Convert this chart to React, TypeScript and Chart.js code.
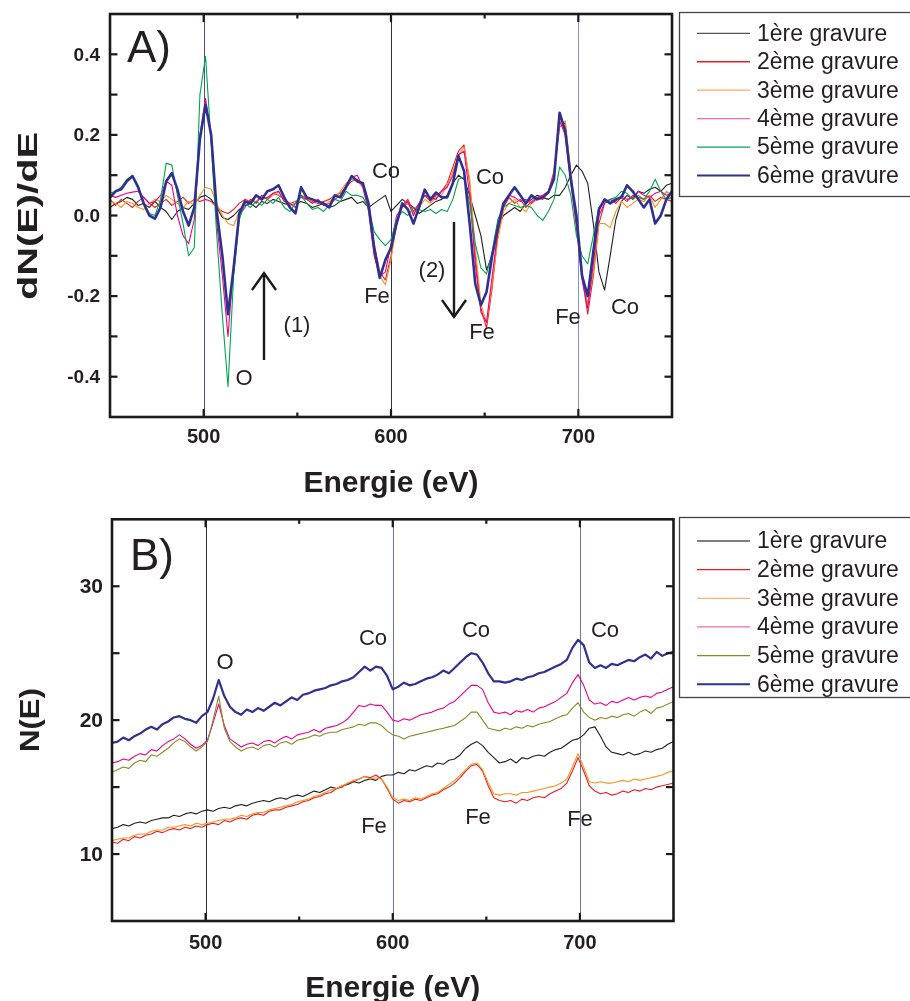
import React, { useEffect, useRef } from "react";
import { Chart, registerables } from "chart.js";

Chart.register(...registerables);

const FONT = '"Liberation Sans", Arial, Helvetica, sans-serif';

// Energy grid (eV)
const energies = [
  450, 453, 456, 459, 462, 465, 468, 471, 474, 477,
  480, 483, 486, 489, 492, 495, 498, 501, 504, 507,
  510, 513, 516, 519, 522, 525, 528, 531, 534, 537,
  540, 543, 546, 549, 552, 555, 558, 561, 564, 567,
  570, 573, 576, 579, 582, 585, 588, 591, 594, 597,
  600, 603, 606, 609, 612, 615, 618, 621, 624, 627,
  630, 633, 636, 639, 642, 645, 648, 651, 654, 657,
  660, 663, 666, 669, 672, 675, 678, 681, 684, 687,
  690, 693, 696, 699, 702, 705, 708, 711, 714, 717,
  720, 723, 726, 729, 732, 735, 738, 741, 744, 747,
  750,
];

const seriesLabels = ["1ère gravure", "2ème gravure", "3ème gravure", "4ème gravure", "5ème gravure", "6ème gravure"];

// Panel A : dN(E)/dE
const derivGravure1 = [
  0.02, 0.03, 0.035, 0.045, 0.04, 0.025, 0.03, 0.02, 0.035, 0.02,
  0.01, -0.01, 0.01, 0.02, 0.015, 0.03, 0.045, 0.05, 0.04, 0.02,
  -0.005, -0.01, 0.0, 0.015, 0.025, 0.03, 0.02, 0.035, 0.03, 0.04,
  0.035, 0.03, 0.025, 0.03, 0.035, 0.03, 0.02, 0.025, 0.03, 0.02,
  0.025, 0.035, 0.04, 0.045, 0.03, 0.035, 0.02, 0.03, 0.04, 0.05,
  0.01, 0.025, 0.04, 0.03, 0.02, 0.005, 0.015, 0.025, 0.035, 0.04,
  0.05, 0.08, 0.1, 0.09, 0.05, 0.0, -0.05, -0.135, -0.1, -0.03,
  0.0, 0.01, 0.02, 0.01, 0.03, 0.04, 0.05, 0.045, 0.04, 0.05,
  0.05, 0.07, 0.1, 0.125, 0.11, 0.08, -0.02, -0.14, -0.185, -0.1,
  -0.01, 0.035, 0.05, 0.04, 0.06, 0.055, 0.065, 0.07, 0.06, 0.075,
  0.08,
];
const derivGravure2 = [
  0.04, 0.025, 0.04, 0.03, 0.02, 0.035, 0.045, 0.03, 0.02, 0.03,
  0.04, 0.025, 0.035, 0.045, 0.03, 0.04, 0.035, 0.04, 0.035, 0.02,
  0.01, 0.005, 0.015, 0.03, 0.04, 0.035, 0.05, 0.04, 0.045, 0.055,
  0.05, 0.04, 0.03, 0.035, 0.045, 0.04, 0.035, 0.03, 0.035, 0.04,
  0.05, 0.055, 0.07, 0.085, 0.09, 0.075, 0.03, -0.07, -0.14, -0.16,
  -0.1, -0.02, 0.025, 0.04, 0.01, 0.03, 0.05, 0.035, 0.05, 0.06,
  0.08, 0.12, 0.16, 0.175, 0.08, -0.1, -0.23, -0.28, -0.18, -0.05,
  0.02, 0.045, 0.03, 0.04, 0.02, 0.035, 0.045, 0.04, 0.06, 0.11,
  0.22, 0.23, 0.1, -0.02, -0.15, -0.245, -0.15, -0.02, 0.03, 0.04,
  0.03, 0.045, 0.035, 0.05, 0.045, 0.04, 0.05, 0.035, 0.045, 0.04,
  0.035,
];
const derivGravure3 = [
  0.035, 0.03, 0.02, 0.035, 0.03, 0.02, 0.015, 0.03, 0.04, 0.035,
  0.05, 0.04, 0.03, 0.02, 0.035, 0.025, 0.05, 0.07, 0.065, 0.03,
  0.0, -0.02, -0.025, 0.01, 0.03, 0.04, 0.035, 0.05, 0.04, 0.05,
  0.06, 0.035, 0.025, 0.03, 0.05, 0.045, 0.03, 0.04, 0.025, 0.035,
  0.045, 0.06, 0.08, 0.09, 0.085, 0.07, 0.02, -0.08, -0.15, -0.172,
  -0.11, -0.02, 0.02, 0.03, 0.005, 0.02, 0.04, 0.03, 0.045, 0.05,
  0.075, 0.11, 0.15, 0.17, 0.09, -0.08, -0.22, -0.265, -0.17, -0.06,
  0.01, 0.03, 0.04, 0.02, 0.01, 0.03, 0.04, 0.05, 0.06, 0.1,
  0.22, 0.235, 0.11, -0.01, -0.14, -0.22, -0.14, -0.02, -0.02, -0.03,
  0.01, 0.035, 0.02, 0.03, 0.04, 0.035, 0.05, 0.02, 0.04, 0.06,
  0.05,
];
const derivGravure4 = [
  0.05, 0.045, 0.05, 0.055, 0.058, 0.06, 0.045, 0.03, 0.035, 0.05,
  0.085, 0.075, 0.0, -0.05, -0.07, -0.01, 0.2, 0.29, 0.2, -0.02,
  -0.15, -0.3, -0.12, 0.0, 0.02, 0.04, 0.03, 0.05, 0.04, 0.055,
  0.06, 0.035, 0.03, 0.02, 0.05, 0.04, 0.03, 0.04, 0.025, 0.03,
  0.04, 0.05, 0.075, 0.095, 0.1, 0.07, 0.01, -0.1, -0.15, -0.14,
  -0.07, 0.0, 0.02, 0.035, 0.0, 0.03, 0.05, 0.045, 0.04, 0.06,
  0.07, 0.1, 0.15, 0.16, 0.05, -0.12, -0.24, -0.265, -0.15, -0.04,
  0.02, 0.05, 0.045, 0.035, 0.04, 0.03, 0.045, 0.05, 0.06, 0.1,
  0.235, 0.2, 0.08, -0.03, -0.16, -0.23, -0.12, 0.0, 0.03, 0.04,
  0.035, 0.05, 0.04, 0.045, 0.06, 0.05, 0.045, 0.055, 0.06, 0.05,
  0.055,
];
const derivGravure5 = [
  0.055, 0.06, 0.07, 0.09, 0.098, 0.075, 0.03, 0.005, 0.0, 0.04,
  0.13, 0.125, 0.05, -0.02, -0.1, -0.08, 0.3, 0.395, 0.18, -0.05,
  -0.25, -0.425, -0.15, -0.01, 0.03, 0.02, 0.035, 0.025, 0.04, 0.03,
  0.045, 0.02, 0.01, 0.03, 0.05, 0.03, 0.015, 0.02, 0.01, 0.025,
  0.04, 0.035, 0.06, 0.05, 0.05, 0.045, 0.02, -0.04, -0.06, -0.075,
  -0.06, -0.01, 0.01, 0.0, 0.02, 0.015, 0.01, 0.015, 0.005, 0.015,
  0.01, 0.04, 0.09, 0.095, 0.03, -0.07, -0.13, -0.145, -0.09, -0.01,
  0.02, 0.03, 0.025, 0.02, 0.025, 0.02, 0.0, -0.012, 0.01, 0.04,
  0.12, 0.1, 0.05, -0.05, -0.1, -0.12, -0.05, 0.02, 0.035, 0.04,
  0.045, 0.06, 0.055, 0.04, 0.05, 0.04, 0.06, 0.09, 0.06, 0.04,
  0.045,
];
const derivGravure6 = [
  0.045, 0.06, 0.065, 0.085, 0.098, 0.07, 0.03, 0.0, -0.008, 0.02,
  0.085, 0.105, 0.065, 0.01, -0.025, 0.02, 0.19, 0.275, 0.2, 0.01,
  -0.1, -0.245, -0.13, 0.005, 0.035, 0.03, 0.05, 0.04, 0.06, 0.065,
  0.075, 0.045, 0.02, 0.005, 0.07, 0.045, 0.04, 0.035, 0.03, 0.02,
  0.05, 0.045, 0.07, 0.098, 0.085, 0.08, 0.03, -0.08, -0.155, -0.11,
  -0.08, -0.02, 0.03, 0.015, -0.02, 0.02, 0.064, 0.04, 0.057, 0.045,
  0.045, 0.08, 0.148, 0.11, -0.02, -0.17, -0.222, -0.19, -0.1, -0.03,
  0.03, 0.05, 0.07, 0.05, 0.03, 0.05, 0.04, 0.045, 0.057, 0.09,
  0.255, 0.21, 0.09, 0.0, -0.15, -0.2, -0.09, 0.015, 0.04, 0.03,
  0.04, 0.045, 0.075, 0.06, 0.04, 0.02, 0.04, -0.02, 0.0, 0.04,
  0.06,
];

// Panel B : N(E)
const nGravure1 = [
  11.9, 12.0, 12.2, 12.1, 12.3, 12.4, 12.3, 12.5, 12.6, 12.7,
  12.7, 12.9, 12.8, 13.0, 13.1, 13.0, 13.2, 13.3, 13.2, 13.4,
  13.5, 13.4, 13.6, 13.7, 13.6, 13.8, 13.9, 14.0, 13.9, 14.1,
  14.2, 14.1, 14.3, 14.4, 14.3, 14.5, 14.7, 14.6, 14.8, 15.0,
  14.9, 15.1, 15.2, 15.4, 15.3, 15.5, 15.6, 15.5, 15.8, 15.9,
  15.9, 16.1, 16.0, 16.3, 16.2, 16.4, 16.6, 16.5, 16.8, 16.7,
  17.0, 17.1, 17.4, 17.9, 18.2, 18.4, 18.1, 17.6, 17.2, 16.8,
  16.9, 17.1, 16.8, 17.2, 17.1, 17.3, 17.4, 17.3, 17.6, 17.8,
  17.9, 18.2, 18.5, 18.6, 18.9, 19.4, 19.5, 18.8, 18.0, 17.6,
  17.5, 17.4, 17.6, 17.4, 17.5, 17.7, 17.6, 17.8, 17.9, 18.2,
  18.4,
];
const nGravure2 = [
  10.9, 10.8, 11.1, 11.0, 11.3, 11.2, 11.4, 11.5, 11.7, 11.6,
  11.8, 11.9, 11.8, 12.0, 11.9, 12.1, 12.0, 12.2, 12.3, 12.2,
  12.5, 12.4, 12.6, 12.7, 12.6, 12.9, 13.0, 12.9, 13.2, 13.3,
  13.3, 13.5, 13.6, 13.7, 13.9, 14.0, 14.2, 14.3, 14.5, 14.6,
  14.9, 15.0, 15.3, 15.4, 15.6, 15.8, 15.7, 15.9, 15.6, 14.9,
  14.1, 13.8, 14.0, 13.9, 14.1, 14.0, 14.2, 14.4, 14.5, 14.8,
  15.0, 15.3, 15.7, 16.2, 16.6, 16.7, 16.2, 15.1, 14.2, 14.0,
  13.9, 14.0, 13.8, 14.1, 14.0, 14.2, 14.3, 14.2, 14.5, 14.7,
  14.9, 15.3, 16.2, 17.2, 16.2, 15.1, 14.7, 14.5, 14.6, 14.4,
  14.5, 14.7, 14.6, 14.8, 14.7, 14.9, 14.8, 15.0, 15.1, 15.2,
  15.3,
];
const nGravure3 = [
  11.0, 11.1, 11.2, 11.2, 11.4, 11.5, 11.5, 11.7, 11.8, 11.8,
  12.0, 12.0, 12.1, 12.2, 12.1, 12.3, 12.2, 12.3, 12.4, 12.5,
  12.6, 12.6, 12.7, 12.9, 12.8, 13.0, 13.1, 13.1, 13.3, 13.4,
  13.5, 13.6, 13.7, 13.9, 14.0, 14.1, 14.3, 14.4, 14.6, 14.8,
  14.9, 15.1, 15.3, 15.5, 15.6, 15.8, 15.6, 15.7, 15.6, 15.0,
  14.2, 14.0, 14.1, 14.0, 14.2, 14.1, 14.3, 14.5, 14.6, 14.9,
  15.2, 15.5, 15.9, 16.3, 16.7, 16.8, 16.3, 15.3, 14.5, 14.4,
  14.5, 14.5, 14.4, 14.6, 14.6, 14.7, 14.8, 14.9, 15.0, 15.1,
  15.3, 15.6, 16.5, 17.5, 16.5, 15.4, 15.3, 15.4, 15.3, 15.3,
  15.4, 15.5, 15.4, 15.6, 15.5, 15.6, 15.7, 15.8, 15.9, 16.1,
  16.2,
];
const nGravure4 = [
  16.8, 16.9, 17.1, 17.0, 17.3, 17.5, 17.4, 17.8, 17.7, 18.1,
  18.4, 18.6, 18.9, 18.6, 18.2, 17.9, 18.1, 18.5, 19.8, 21.2,
  19.6, 18.6, 18.3, 18.0, 18.2, 18.3, 18.1, 18.4, 18.5, 18.3,
  18.6, 18.8, 18.6, 18.9, 19.0, 19.1, 19.3, 19.1, 19.4, 19.5,
  19.6, 19.8, 20.1, 20.6, 21.1, 21.0, 21.2, 21.1, 21.1, 20.6,
  20.0, 19.9, 20.1, 20.0, 20.2, 20.4, 20.5, 20.6, 20.8, 20.9,
  21.2, 21.4, 21.8, 22.2, 22.6, 22.6, 22.3, 21.3, 20.6, 20.5,
  20.6, 20.4, 20.7, 20.6, 20.8, 20.6, 20.9, 21.0, 21.2, 21.4,
  21.7, 22.0, 22.8, 23.4, 22.6, 21.5, 21.2, 21.3, 21.1, 21.4,
  21.3, 21.5, 21.7, 21.5, 21.7, 21.8, 21.7, 22.0, 22.1, 22.3,
  22.5,
];
const nGravure5 = [
  16.1, 16.3, 16.5, 16.4, 16.8, 17.0, 16.9, 17.4, 17.3, 17.6,
  17.9, 18.3, 18.6, 18.4, 18.0, 17.7, 18.0, 18.4, 20.0, 21.8,
  19.4, 18.4, 18.0, 17.7, 17.9, 18.0, 17.8, 18.1, 18.2, 18.0,
  18.3, 18.4, 18.2, 18.5, 18.6, 18.7, 18.9, 18.8, 19.0, 19.1,
  19.1, 19.3, 19.4, 19.5, 19.7, 19.6, 19.8, 19.8, 19.6, 19.2,
  18.9, 18.8, 18.6, 18.8, 18.9, 19.0, 19.1, 19.2, 19.3, 19.4,
  19.5, 19.6, 19.9, 20.2, 20.6, 20.6, 20.0, 19.4, 19.3, 19.2,
  19.4, 19.3, 19.5, 19.4, 19.6, 19.5, 19.7, 19.8, 19.9, 20.1,
  20.3, 20.4, 20.9, 21.3, 20.6, 20.2, 20.0, 20.2, 20.1, 20.3,
  20.2, 20.4, 20.5, 20.3, 20.6, 20.8, 20.5, 20.9, 21.0, 21.2,
  21.4,
];
const nGravure6 = [
  18.3, 18.4, 18.7, 18.5, 18.8, 19.0, 19.3, 19.5, 19.3, 19.7,
  19.9, 20.2, 20.3, 20.1, 20.0, 19.8, 20.3, 20.6, 21.6, 23.0,
  21.8, 21.0, 20.6, 20.4, 20.8, 20.6, 20.9, 20.7, 21.0, 21.3,
  21.1, 21.4, 21.7, 21.5, 21.9, 22.0, 22.2, 22.3, 22.4, 22.6,
  22.7, 22.9, 23.0, 23.2, 23.6, 24.0, 23.7, 24.0, 23.9, 23.3,
  22.3, 22.5, 22.8, 22.6, 22.7, 22.9, 23.1, 23.2, 23.4, 23.7,
  23.5, 23.9, 24.3, 24.7, 25.0, 24.9, 24.3, 23.5, 22.9, 22.9,
  22.8, 22.9, 23.1, 23.0, 23.2, 23.3, 23.5, 23.6, 23.8, 24.0,
  24.2, 24.5, 25.4, 26.0, 25.6, 24.3, 23.9, 24.1, 23.9, 24.2,
  24.1, 24.3, 24.5, 24.4, 24.7, 24.9, 24.6, 25.1, 24.8, 25.0,
  25.1,
];

// Axis ticks
const xMajorTicks = [500, 600, 700];
const xTickLabels = ["500", "600", "700"];
const xMinorTicks = [550, 650];
const yMajorTicksA = [-0.4, -0.2, 0.0, 0.2, 0.4];
const yTickLabelsA = ["-0.4", "-0.2", "0.0", "0.2", "0.4"];
const yMinorTicksA = [-0.3, -0.1, 0.1, 0.3];
const yMajorTicksB = [10, 20, 30];
const yTickLabelsB = ["10", "20", "30"];
const yMinorTicksB = [15, 25];
const markerEnergies = [500, 600, 700];

type Note = { t: string; x: number; y: number };

const panelA = {
  series: [derivGravure1, derivGravure2, derivGravure3, derivGravure4, derivGravure5, derivGravure6],
  colors: ["#231f20", "#ed1c24", "#f7941d", "#ec008c", "#00a651", "#2e3192"],
  legendColors: ["#555555", "#ed1c24", "#fbab5c", "#f26bb5", "#00a651", "#2e3192"],
  orders: [5, 4, 3, 2, 1, 0],
  thin: 1.1,
  thick: 2.6,
  yMin: -0.5,
  yMax: 0.5,
  padding: { left: 110, right: 238, top: 14, bottom: 83 },
  yMajor: yMajorTicksA,
  yLabels: yTickLabelsA,
  yMinor: yMinorTicksA,
  yLabelFont: 19,
  yLabelRight: 100,
  xLabelOffset: 20,
  xTitleBase: 492,
  yTitle: "dN(E)/dE",
  yTitleCx: 30,
  yTitleCy: 216,
  yTitleLen: 168,
  vlineColors: ["#4b4ba8", "#2a2d5e", "#8391d2"],
  panelTag: "A)",
  tagX: 127,
  tagY: 62,
  legendTop: 12.5,
  legendH: 184,
  legendRow0: 33.3,
  legendStep: 28.45,
  notes: [
    { t: "Co", x: 386, y: 172 },
    { t: "Co", x: 490, y: 178 },
    { t: "Fe", x: 377, y: 297 },
    { t: "O", x: 244, y: 379 },
    { t: "(1)", x: 297, y: 326 },
    { t: "(2)", x: 432, y: 271 },
    { t: "Fe", x: 482, y: 333 },
    { t: "Fe", x: 568, y: 318 },
    { t: "Co", x: 625, y: 308 },
  ] as Note[],
  arrows: [
    { x: 264, from: 360, to: 273 },
    { x: 454, from: 222, to: 317 },
  ],
};

const panelB = {
  series: [nGravure1, nGravure2, nGravure3, nGravure4, nGravure5, nGravure6],
  colors: ["#231f20", "#ed1c24", "#f7941d", "#ec008c", "#8a8a24", "#2e3192"],
  legendColors: ["#555555", "#ed1c24", "#f8b27a", "#f26bb5", "#8a8a24", "#2e3192"],
  orders: [5, 4, 3, 2, 1, 0],
  thin: 1.1,
  thick: 2.2,
  yMin: 5,
  yMax: 35,
  padding: { left: 112, right: 236.5, top: 19.3, bottom: 80 },
  yMajor: yMajorTicksB,
  yLabels: yTickLabelsB,
  yMinor: yMinorTicksB,
  yLabelFont: 21,
  yLabelRight: 103,
  xLabelOffset: 22,
  xTitleBase: 497,
  yTitle: "N(E)",
  yTitleCx: 32,
  yTitleCy: 220,
  yTitleLen: 64,
  vlineColors: ["#2a2d5e", "#6574c4", "#6574c4"],
  panelTag: "B)",
  tagX: 130,
  tagY: 70,
  legendTop: 17.5,
  legendH: 180,
  legendRow0: 41,
  legendStep: 28.65,
  notes: [
    { t: "O", x: 225, y: 163 },
    { t: "Co", x: 373, y: 139 },
    { t: "Co", x: 476, y: 131 },
    { t: "Co", x: 605, y: 131 },
    { t: "Fe", x: 374, y: 327 },
    { t: "Fe", x: 478, y: 318 },
    { t: "Fe", x: 580, y: 320 },
  ] as Note[],
  arrows: [] as { x: number; from: number; to: number }[],
};

type PanelCfg = typeof panelA;

function makeDecor(cfg: PanelCfg) {
  return {
    id: "decor",
    beforeDatasetsDraw(chart: any) {
      const ctx = chart.ctx as CanvasRenderingContext2D;
      const ca = chart.chartArea;
      const xs = chart.scales.x;
      ctx.save();
      ctx.lineWidth = 1;
      markerEnergies.forEach((e, i) => {
        const px = Math.round(xs.getPixelForValue(e)) + 0.5;
        ctx.strokeStyle = cfg.vlineColors[i];
        ctx.beginPath();
        ctx.moveTo(px, ca.top);
        ctx.lineTo(px, ca.bottom);
        ctx.stroke();
      });
      ctx.restore();
    },
    afterDatasetsDraw(chart: any) {
      const ctx = chart.ctx as CanvasRenderingContext2D;
      const ca = chart.chartArea;
      const xs = chart.scales.x;
      const ys = chart.scales.y;
      ctx.save();
      // frame
      ctx.strokeStyle = "#1a1a1a";
      ctx.lineWidth = 2.6;
      ctx.strokeRect(ca.left, ca.top, ca.right - ca.left, ca.bottom - ca.top);
      // ticks (inward on all four sides)
      ctx.lineWidth = 2.2;
      const seg = (x1: number, y1: number, x2: number, y2: number) => {
        ctx.beginPath();
        ctx.moveTo(x1, y1);
        ctx.lineTo(x2, y2);
        ctx.stroke();
      };
      xMajorTicks.forEach((v) => {
        const p = xs.getPixelForValue(v);
        seg(p, ca.bottom, p, ca.bottom - 8);
        seg(p, ca.top, p, ca.top + 8);
      });
      xMinorTicks.forEach((v) => {
        const p = xs.getPixelForValue(v);
        seg(p, ca.bottom, p, ca.bottom - 4.5);
        seg(p, ca.top, p, ca.top + 4.5);
      });
      [...cfg.yMajor, ...cfg.yMinor].forEach((v) => {
        const p = ys.getPixelForValue(v);
        seg(ca.left, p, ca.left + 7.5, p);
        seg(ca.right, p, ca.right - 7.5, p);
      });
      // tick labels
      ctx.fillStyle = "#231f20";
      ctx.font = `bold 20px ${FONT}`;
      ctx.textAlign = "center";
      ctx.textBaseline = "middle";
      xMajorTicks.forEach((v, i) => {
        ctx.fillText(xTickLabels[i], xs.getPixelForValue(v), ca.bottom + cfg.xLabelOffset);
      });
      ctx.font = `bold ${cfg.yLabelFont}px ${FONT}`;
      ctx.textAlign = "right";
      cfg.yMajor.forEach((v, i) => {
        ctx.fillText(cfg.yLabels[i], cfg.yLabelRight, ys.getPixelForValue(v) + 1);
      });
      // x title
      ctx.font = `bold 30px ${FONT}`;
      ctx.textAlign = "center";
      ctx.textBaseline = "alphabetic";
      ctx.fillText("Energie (eV)", (ca.left + ca.right) / 2, cfg.xTitleBase);
      // y title (rotated, stretched along its length)
      ctx.save();
      ctx.font = `bold 27px ${FONT}`;
      const w = ctx.measureText(cfg.yTitle).width;
      ctx.translate(cfg.yTitleCx, cfg.yTitleCy);
      ctx.rotate(-Math.PI / 2);
      ctx.scale(cfg.yTitleLen / w, 1);
      ctx.textAlign = "center";
      ctx.textBaseline = "middle";
      ctx.fillText(cfg.yTitle, 0, 0);
      ctx.restore();
      // panel tag
      ctx.fillStyle = "#231f20";
      ctx.font = `44px ${FONT}`;
      ctx.textAlign = "left";
      ctx.textBaseline = "alphabetic";
      ctx.fillText(cfg.panelTag, cfg.tagX, cfg.tagY);
      // notes
      ctx.font = `22px ${FONT}`;
      ctx.textAlign = "center";
      ctx.textBaseline = "middle";
      cfg.notes.forEach((n) => ctx.fillText(n.t, n.x, n.y));
      // arrows
      ctx.strokeStyle = "#1a1a1a";
      ctx.lineWidth = 2.4;
      cfg.arrows.forEach((a) => {
        const dir = Math.sign(a.to - a.from);
        seg(a.x, a.from, a.x, a.to);
        ctx.beginPath();
        ctx.moveTo(a.x - 12, a.to - dir * 17);
        ctx.lineTo(a.x, a.to);
        ctx.lineTo(a.x + 12, a.to - dir * 17);
        ctx.stroke();
      });
      // legend
      ctx.strokeStyle = "#444";
      ctx.lineWidth = 1.3;
      ctx.strokeRect(679.5, cfg.legendTop, 260, cfg.legendH);
      ctx.font = `23px ${FONT}`;
      ctx.textAlign = "left";
      ctx.textBaseline = "middle";
      seriesLabels.forEach((lab, i) => {
        const y = cfg.legendRow0 + i * cfg.legendStep;
        ctx.strokeStyle = cfg.legendColors[i];
        ctx.lineWidth = i === 5 ? 2 : 1.3;
        seg(697, y, 750, y);
        ctx.fillStyle = "#231f20";
        ctx.fillText(lab, 757, y + 1);
      });
      ctx.restore();
    },
  };
}

function PanelChart({ cfg, top, height }: { cfg: PanelCfg; top: number; height: number }) {
  const ref = useRef<HTMLCanvasElement>(null);
  useEffect(() => {
    if (!ref.current) return;
    const chart = new Chart(ref.current, {
      type: "line",
      data: {
        datasets: cfg.series.map((s, i) => ({
          label: seriesLabels[i],
          data: energies.map((e, k) => ({ x: e, y: s[k] })),
          borderColor: cfg.colors[i],
          borderWidth: i === 5 ? cfg.thick : cfg.thin,
          borderJoinStyle: "round" as const,
          pointRadius: 0,
          fill: false,
          tension: 0,
          order: cfg.orders[i],
        })),
      },
      options: {
        responsive: false,
        animation: false,
        devicePixelRatio: 1,
        events: [],
        layout: { padding: cfg.padding },
        plugins: { legend: { display: false }, tooltip: { enabled: false } },
        scales: {
          x: { type: "linear", min: 450, max: 750, display: false },
          y: { type: "linear", min: cfg.yMin, max: cfg.yMax, display: false },
        },
      },
      plugins: [makeDecor(cfg)],
    });
    return () => chart.destroy();
  }, [cfg]);
  return (
    <canvas
      ref={ref}
      width={910}
      height={height}
      style={{ position: "absolute", left: 0, top, width: 910, height, display: "block" }}
    />
  );
}

export default function App() {
  return (
    <div style={{ position: "absolute", left: 0, top: 0, width: 910, height: 1001, background: "#ffffff", overflow: "hidden" }}>
      <PanelChart cfg={panelA} top={0} height={500} />
      <PanelChart cfg={panelB} top={500} height={501} />
    </div>
  );
}
